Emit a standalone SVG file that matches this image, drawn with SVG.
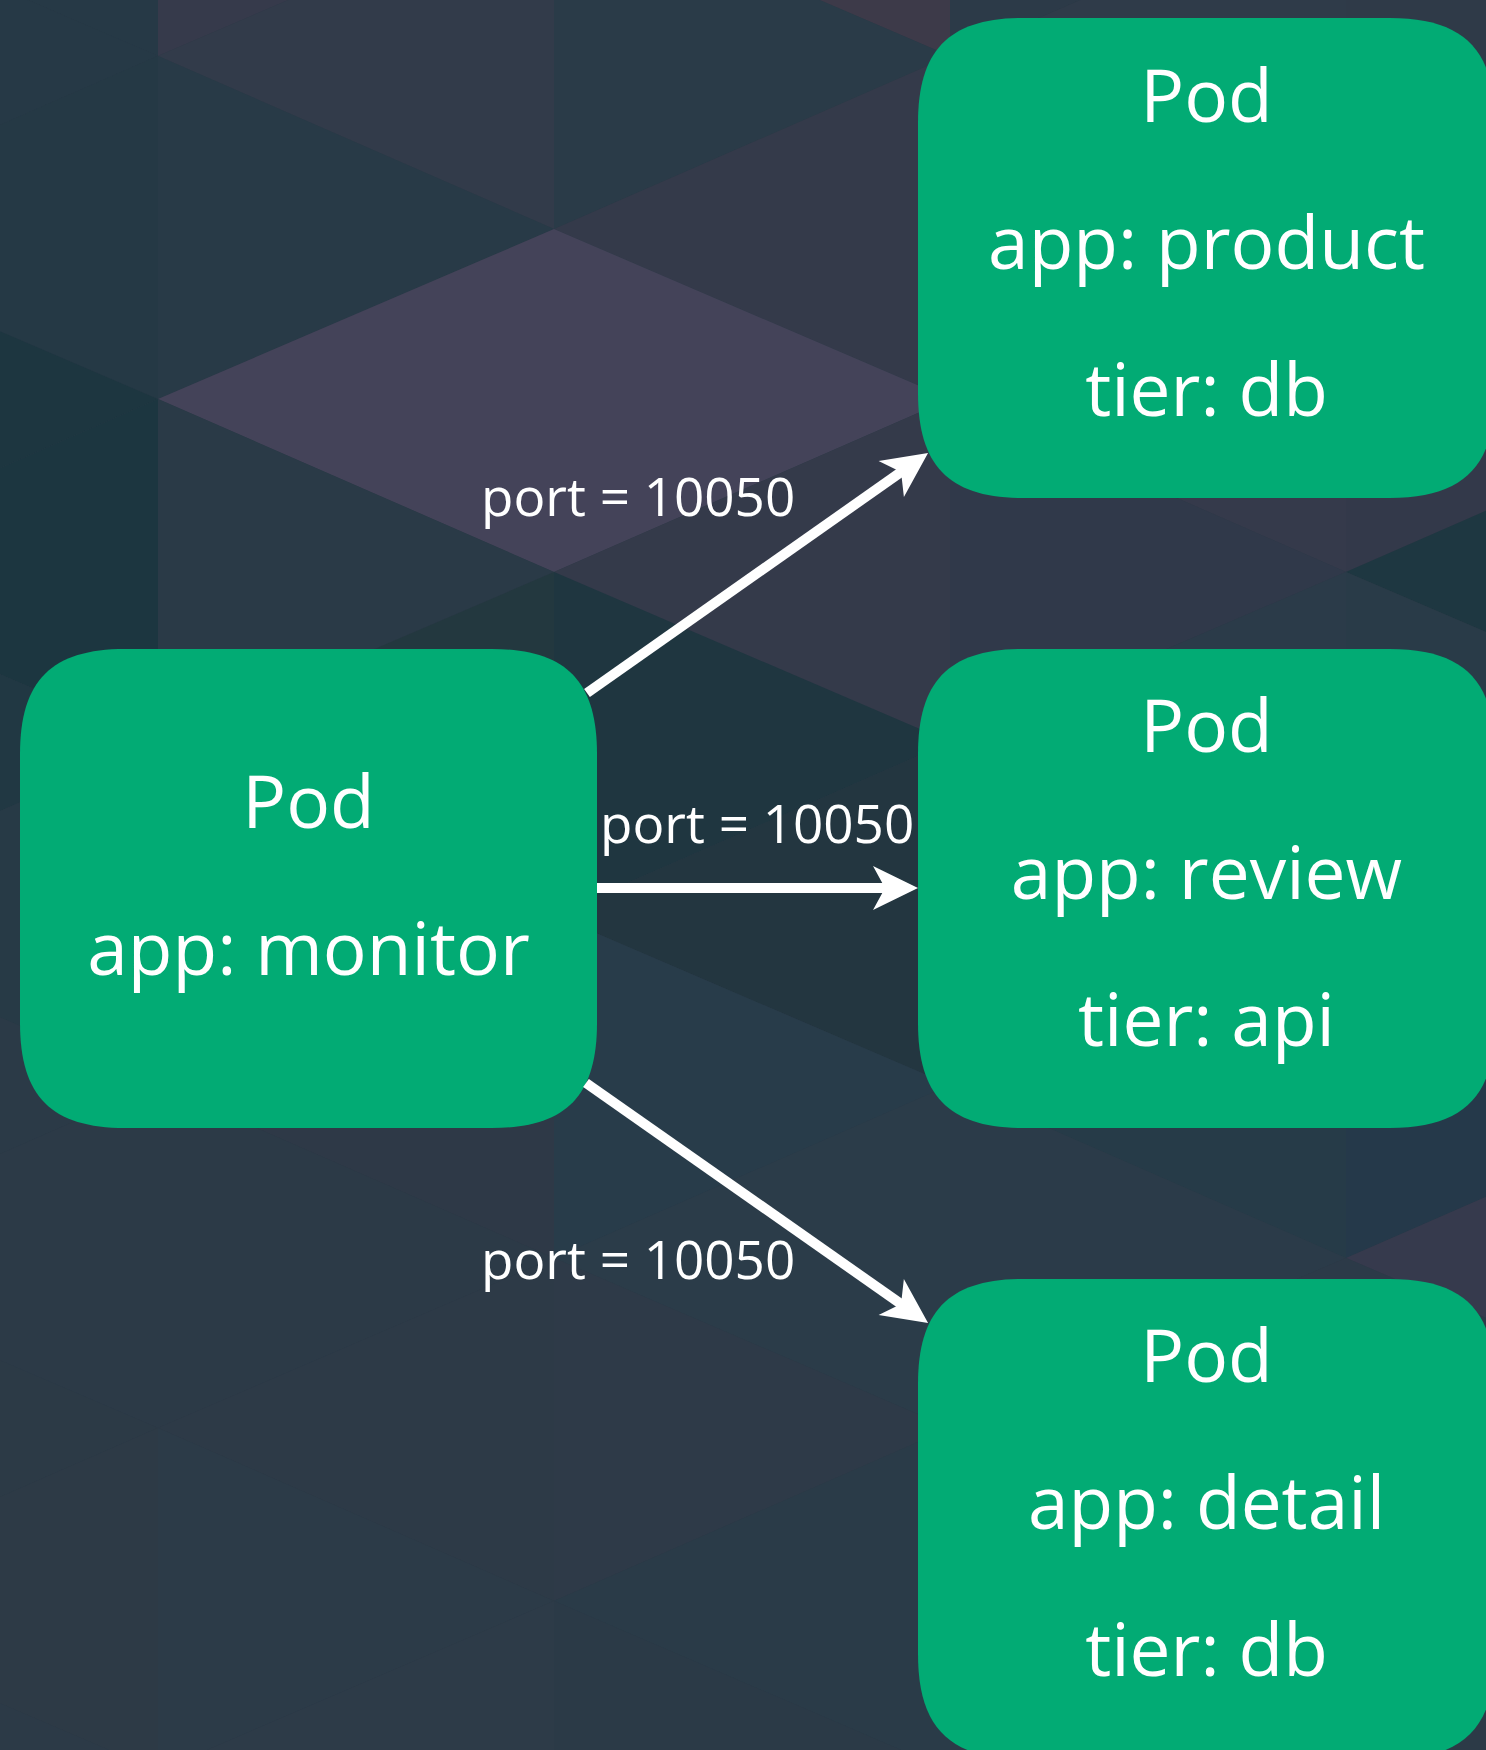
<svg xmlns="http://www.w3.org/2000/svg" width="1486" height="1750" viewBox="0 0 1486 1750">
  <style>
    .node { fill: #02ab74; }
    .t { font-family: "Open Sans", "Noto Sans", "Liberation Sans", sans-serif; fill: #ffffff; }
    .nt { font-size: 73px; text-anchor: middle; }
    .lbl { font-size: 53px; }
    .edge { stroke: #ffffff; stroke-width: 10; fill: none; marker-end: url(#arrow); }
  </style>
  <defs>
    <marker id="arrow" markerUnits="userSpaceOnUse" markerWidth="46" markerHeight="46" refX="20" refY="22" orient="auto" overflow="visible">
      <path d="M0,0 L45,22 L0,44 L12,22 Z" fill="#ffffff"/>
    </marker>
  </defs>

  <g id="background">
    <rect x="0" y="0" width="1486" height="1750" fill="#2c3a47"/>
    <!-- strip A -->
    <polygon points="158,-287 158,56 -238,-114" fill="#263946"/>
    <polygon points="-238,-114 -238,229 158,56" fill="#263946"/>
    <polygon points="158,56 158,399 -238,229" fill="#253945"/>
    <polygon points="-238,229 -238,572 158,399" fill="#1d3640"/>
    <polygon points="158,399 158,742 -238,572" fill="#1c3640"/>
    <polygon points="-238,572 -238,915 158,742" fill="#213843"/>
    <polygon points="158,742 158,1085 -238,915" fill="#273a46"/>
    <polygon points="-238,915 -238,1258 158,1085" fill="#2b3a47"/>
    <polygon points="158,1085 158,1428 -238,1258" fill="#2c3a47"/>
    <polygon points="-238,1258 -238,1601 158,1428" fill="#2c3a46"/>
    <polygon points="158,1428 158,1771 -238,1601" fill="#2d3a46"/>
    <polygon points="-238,1601 -238,1944 158,1771" fill="#2c3a47"/>
    <!-- strip B -->
    <polygon points="158,-287 158,56 554,-114" fill="#363a4b"/>
    <polygon points="554,-114 554,229 158,56" fill="#323b4a"/>
    <polygon points="158,56 158,399 554,229" fill="#283a47"/>
    <polygon points="554,229 554,572 158,399" fill="#444359"/>
    <polygon points="158,399 158,742 554,572" fill="#2a3a47"/>
    <polygon points="554,572 554,915 158,742" fill="#23383f"/>
    <polygon points="158,742 158,1085 554,915" fill="#283a46"/>
    <polygon points="554,915 554,1258 158,1085" fill="#2e3947"/>
    <polygon points="158,1085 158,1428 554,1258" fill="#2c3a47"/>
    <polygon points="554,1258 554,1601 158,1428" fill="#2d3a47"/>
    <polygon points="158,1428 158,1771 554,1601" fill="#2c3b48"/>
    <polygon points="554,1601 554,1944 158,1771" fill="#2d3b48"/>
    <!-- strip C -->
    <polygon points="950,-287 950,56 554,-114" fill="#3d3a49"/>
    <polygon points="554,-114 554,229 950,56" fill="#2a3b48"/>
    <polygon points="950,56 950,399 554,229" fill="#343a4a"/>
    <polygon points="554,229 554,572 950,399" fill="#444359"/>
    <polygon points="950,399 950,742 554,572" fill="#343a4a"/>
    <polygon points="554,572 554,915 950,742" fill="#1f3640"/>
    <polygon points="950,742 950,1085 554,915" fill="#233640"/>
    <polygon points="554,915 554,1258 950,1085" fill="#283c4a"/>
    <polygon points="950,1085 950,1428 554,1258" fill="#2b3c49"/>
    <polygon points="554,1258 554,1601 950,1428" fill="#2e3a48"/>
    <polygon points="950,1428 950,1771 554,1601" fill="#2a3b48"/>
    <polygon points="554,1601 554,1944 950,1771" fill="#2b3a47"/>
    <!-- strip D -->
    <polygon points="950,-287 950,56 1346,-114" fill="#2c3a48"/>
    <polygon points="1346,-114 1346,229 950,56" fill="#2f3b49"/>
    <polygon points="950,56 950,399 1346,229" fill="#2e3a48"/>
    <polygon points="1346,229 1346,572 950,399" fill="#353a4b"/>
    <polygon points="950,399 950,742 1346,572" fill="#30394a"/>
    <polygon points="1346,572 1346,915 950,742" fill="#2b3b49"/>
    <polygon points="950,742 950,1085 1346,915" fill="#263a47"/>
    <polygon points="1346,915 1346,1258 950,1085" fill="#263b48"/>
    <polygon points="950,1085 950,1428 1346,1258" fill="#2b3b49"/>
    <polygon points="1346,1258 1346,1601 950,1428" fill="#2c3a48"/>
    <polygon points="950,1428 950,1771 1346,1601" fill="#2c3a48"/>
    <!-- strip E -->
    <polygon points="1742,-287 1742,56 1346,-114" fill="#303a49"/>
    <polygon points="1346,-114 1346,229 1742,56" fill="#2f3a48"/>
    <polygon points="1742,56 1742,399 1346,229" fill="#2e3a48"/>
    <polygon points="1346,229 1346,572 1742,399" fill="#33394a"/>
    <polygon points="1742,399 1742,742 1346,572" fill="#1e3741"/>
    <polygon points="1346,572 1346,915 1742,742" fill="#293b48"/>
    <polygon points="1742,742 1742,1085 1346,915" fill="#283b48"/>
    <polygon points="1346,915 1346,1258 1742,1085" fill="#25394a"/>
    <polygon points="1742,1085 1742,1428 1346,1258" fill="#363a4d"/>
    <polygon points="1346,1258 1346,1601 1742,1428" fill="#2c3a48"/>
  </g>

  <g id="node-monitor">
    <path class="node" d="M125,649 H492 C565.5,649 597,680.5 597,754 V1023 C597,1096.5 565.5,1128 492,1128 H125 C51.5,1128 20,1096.5 20,1023 V754 C20,680.5 51.5,649 125,649 Z"/>
    <text class="t nt" x="308.5" y="828">Pod</text>
    <text class="t nt" x="308.5" y="975">app: monitor</text>
  </g>

  <g id="node-product">
    <path class="node" d="M1023,18 H1390 C1463.5,18 1495,49.5 1495,123 V393 C1495,466.5 1463.5,498 1390,498 H1023 C949.5,498 918,466.5 918,393 V123 C918,49.5 949.5,18 1023,18 Z"/>
    <text class="t nt" x="1206.5" y="122">Pod</text>
    <text class="t nt" x="1206.5" y="269">app: product</text>
    <text class="t nt" x="1206.5" y="416">tier: db</text>
  </g>

  <g id="node-review">
    <path class="node" d="M1023,649 H1390 C1463.5,649 1495,680.5 1495,754 V1023 C1495,1096.5 1463.5,1128 1390,1128 H1023 C949.5,1128 918,1096.5 918,1023 V754 C918,680.5 949.5,649 1023,649 Z"/>
    <text class="t nt" x="1206.5" y="752">Pod</text>
    <text class="t nt" x="1206.5" y="899">app: review</text>
    <text class="t nt" x="1206.5" y="1046">tier: api</text>
  </g>

  <g id="node-detail">
    <path class="node" d="M1023,1279 H1390 C1463.5,1279 1495,1310.5 1495,1384 V1654 C1495,1727.5 1463.5,1759 1390,1759 H1023 C949.5,1759 918,1727.5 918,1654 V1384 C918,1310.5 949.5,1279 1023,1279 Z"/>
    <text class="t nt" x="1206.5" y="1382">Pod</text>
    <text class="t nt" x="1206.5" y="1529">app: detail</text>
    <text class="t nt" x="1206.5" y="1676">tier: db</text>
  </g>

  <g id="connectors">
    <path class="edge" d="M587,693 L907.6,467.4"/>
    <path class="edge" d="M597,888 L893,888"/>
    <path class="edge" d="M586,1083 L907.6,1308.6"/>
    <text class="t lbl" x="481" y="516">port = 10050</text>
    <text class="t lbl" x="600" y="843">port = 10050</text>
    <text class="t lbl" x="481" y="1279">port = 10050</text>
  </g>
</svg>
